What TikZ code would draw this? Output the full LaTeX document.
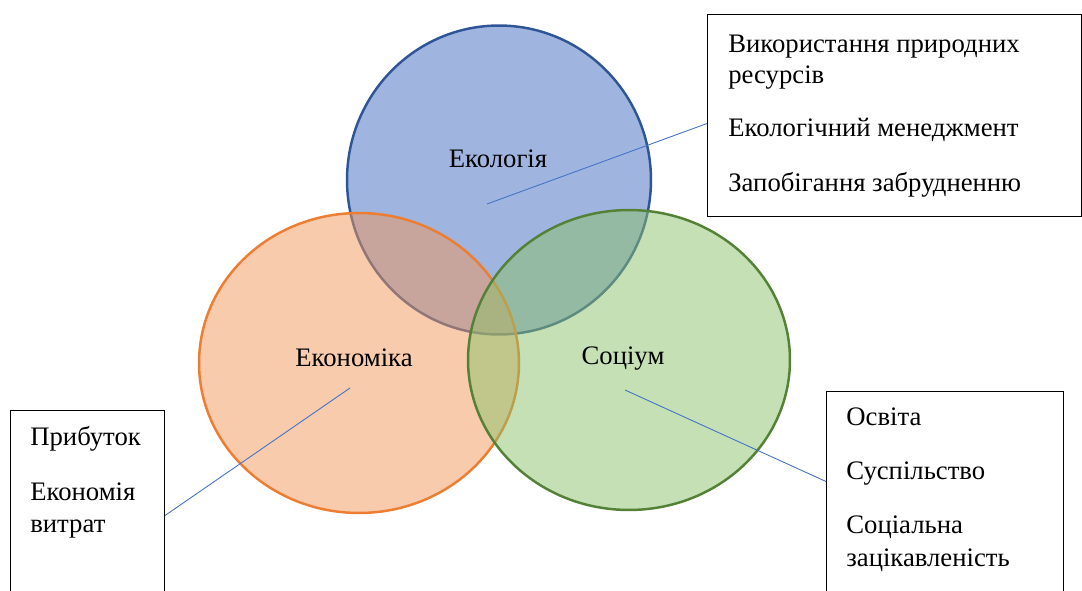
\documentclass[tikz,border=0pt]{standalone}
\usepackage{fontspec}
\setmainfont{Liberation Serif}
\usetikzlibrary{positioning}

\definecolor{ecoline}{HTML}{2F5597}
\definecolor{ecofill}{HTML}{3F6CC2}
\definecolor{econline}{HTML}{ED7D31}
\definecolor{econfill}{HTML}{F1975B}
\definecolor{socline}{HTML}{538135}
\definecolor{socfill}{HTML}{8BC169}
\definecolor{pinline}{HTML}{4472C4}

\begin{document}
\begin{tikzpicture}[x=0.02cm, y=-0.02cm,
		circ/.style={line width=1.4pt, fill opacity=0.5},
		infobox/.style={draw, line width=0.6pt, rectangle, anchor=north west, inner sep=0pt},
		boxtext/.style={anchor=base west, inner sep=0pt, font=\fontsize{15.2}{18}\selectfont},
		lbl/.style={anchor=base, inner sep=0pt, font=\fontsize{15.2}{18}\selectfont},
		pin/.style={draw=pinline, line width=0.5pt}]
	\useasboundingbox (0,0) rectangle (1082,591);
	\clip (0,0) rectangle (1082,591);

	% three circles
	\draw[circ, draw=ecoline, fill=ecofill] (499,180) ellipse [x radius=3.04cm, y radius=3.09cm];
	\draw[circ, draw=econline, fill=econfill] (359,363) ellipse [x radius=3.2cm, y radius=3cm];
	\draw[circ, draw=socline, fill=socfill] (629,360) ellipse [x radius=3.22cm, y radius=3cm];

	\node[lbl] (ecolbl) at (498,168) {Екологія};
	\node[lbl] (econlbl) at (354,366) {Економіка};
	\node[lbl] (soclbl) at (623,364) {Соціум};

	% boxes
	\node[infobox, minimum width=7.48cm, minimum height=4.04cm] (ecobox) at (707,14) {};
	\node[boxtext] (eco1) at (728,53) {Використання природних};
	\node[boxtext] (eco2) at (728,84) {ресурсів};
	\node[boxtext] (eco3) at (728,137) {Екологічний менеджмент};
	\node[boxtext] (eco4) at (728,192) {Запобігання забрудненню};

	\node[infobox, minimum width=3.08cm, minimum height=4.2cm] (econbox) at (10,410) {};
	\node[boxtext] (econ1) at (30,445) {Прибуток};
	\node[boxtext] (econ2) at (30,500) {Економія};
	\node[boxtext] (econ3) at (30,532) {витрат};

	\node[infobox, minimum width=4.74cm, minimum height=4.4cm] (socbox) at (826,391) {};
	\node[boxtext] (soc1) at (846,425) {Освіта};
	\node[boxtext] (soc2) at (846,479) {Суспільство};
	\node[boxtext] (soc3) at (846,533) {Соціальна};
	\node[boxtext] (soc4) at (846,566) {зацікавленість};

	% connectors
	\coordinate (ecopin) at (487,204);
	\coordinate (econpin) at (350,388);
	\coordinate (socpin) at (625,390);
	\draw[pin] (ecopin) -- ([yshift=-0.16cm]ecobox.west);
	\draw[pin] (econpin) -- (econbox.east);
	\draw[pin] (socpin) -- ([yshift=0.4cm]socbox.west);
\end{tikzpicture}
\end{document}
